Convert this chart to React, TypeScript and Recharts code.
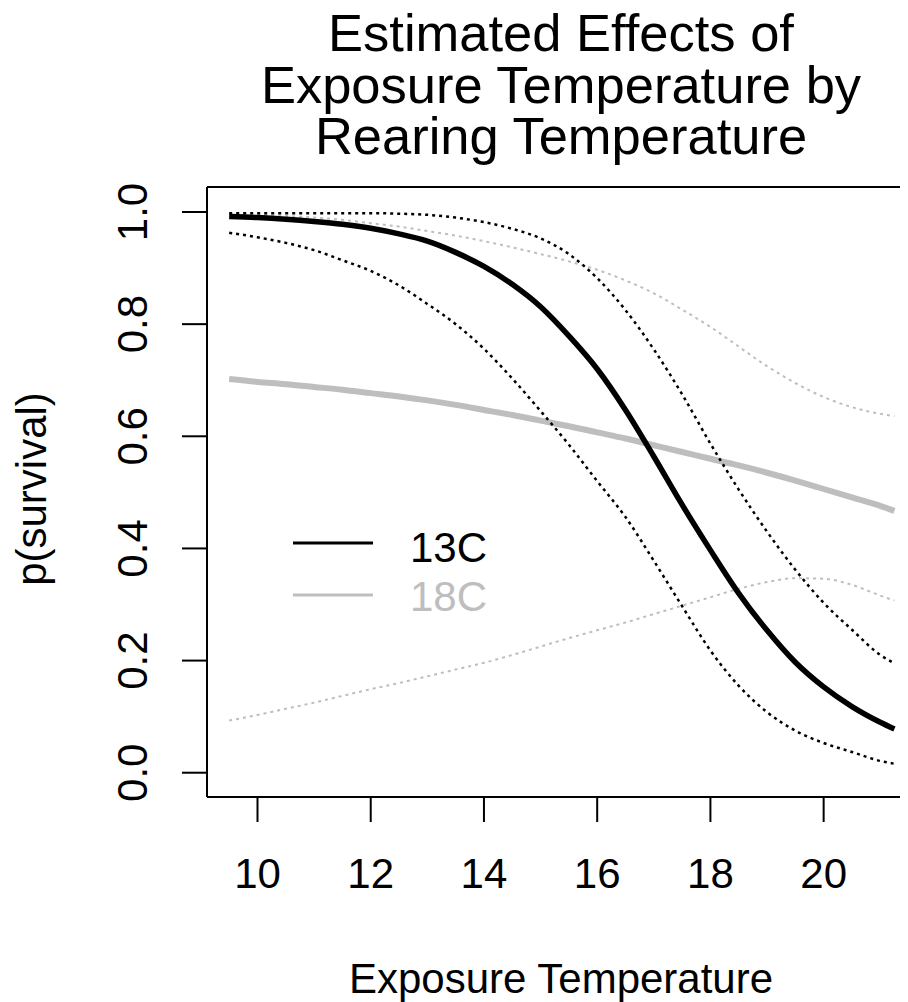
import React from "react";
import { LineChart, Line, XAxis, YAxis, ReferenceLine } from "recharts";

// Exposure temperature grid
const exposureTemp = [9.5, 10, 10.5, 11, 11.5, 12, 12.5, 13, 13.5, 14, 14.5, 15, 15.5, 16, 16.5, 17, 17.5, 18, 18.5, 19, 19.5, 20, 20.5, 21, 21.25];

// Rearing 13C: fit and confidence bounds
const fit13 = [0.992, 0.99, 0.987, 0.983, 0.978, 0.971, 0.961, 0.948, 0.928, 0.903, 0.871, 0.831, 0.779, 0.72, 0.647, 0.564, 0.478, 0.397, 0.32, 0.254, 0.197, 0.153, 0.118, 0.09, 0.078];
const lower13 = [0.963, 0.955, 0.945, 0.932, 0.914, 0.895, 0.869, 0.836, 0.8, 0.756, 0.703, 0.645, 0.585, 0.52, 0.456, 0.378, 0.297, 0.218, 0.155, 0.108, 0.075, 0.053, 0.037, 0.021, 0.016];
const upper13 = [0.998, 0.998, 0.998, 0.998, 0.998, 0.998, 0.997, 0.995, 0.99, 0.982, 0.97, 0.953, 0.925, 0.882, 0.825, 0.755, 0.675, 0.587, 0.505, 0.43, 0.362, 0.303, 0.255, 0.21, 0.195];

// Rearing 18C: fit and confidence bounds
const fit18 = [0.702, 0.697, 0.693, 0.688, 0.683, 0.677, 0.671, 0.664, 0.656, 0.647, 0.638, 0.628, 0.618, 0.607, 0.596, 0.584, 0.572, 0.56, 0.548, 0.535, 0.521, 0.506, 0.491, 0.476, 0.467];
const lower18 = [0.093, 0.103, 0.114, 0.125, 0.137, 0.149, 0.16, 0.172, 0.184, 0.196, 0.21, 0.225, 0.24, 0.254, 0.268, 0.283, 0.298, 0.313, 0.328, 0.34, 0.347, 0.346, 0.335, 0.316, 0.307];
const upper18 = [0.996, 0.995, 0.993, 0.99, 0.986, 0.98, 0.974, 0.966, 0.958, 0.948, 0.937, 0.925, 0.912, 0.897, 0.878, 0.855, 0.826, 0.795, 0.76, 0.725, 0.695, 0.67, 0.652, 0.64, 0.636];

const xTicks = [10, 12, 14, 16, 18, 20];
const yTicks = [0, 0.2, 0.4, 0.6, 0.8, 1.0];
const X_DOMAIN: [number, number] = [9.108, 21.49];
const Y_DOMAIN: [number, number] = [-0.0433, 1.0446];

const titleLines = ["Estimated Effects of", "Exposure Temperature by", "Rearing Temperature"];
const xLabel = "Exposure Temperature";
const yLabel = "p(survival)";
const legendItems = [
  { name: "13C", color: "#000000" },
  { name: "18C", color: "#BEBEBE" },
];

const data = exposureTemp.map((x, i) => ({
  x,
  fit13: fit13[i],
  lower13: lower13[i],
  upper13: upper13[i],
  fit18: fit18[i],
  lower18: lower18[i],
  upper18: upper18[i],
}));

const FONT = "'Liberation Sans', Arial, sans-serif";
const GRAY = "#BEBEBE";

const XTick = (props: any) => {
  const { x, y, payload } = props;
  return (
    <text x={x} y={y + 66} textAnchor="middle" fontFamily={FONT} fontSize={42} fill="#000">
      {payload.value}
    </text>
  );
};

const YTick = (props: any) => {
  const { x, y, payload } = props;
  const bx = x - 35;
  return (
    <text
      x={bx}
      y={y}
      textAnchor="middle"
      fontFamily={FONT}
      fontSize={42}
      fill="#000"
      transform={`rotate(-90, ${bx}, ${y})`}
    >
      {Number(payload.value).toFixed(1)}
    </text>
  );
};

export default function App() {
  return (
    <div style={{ position: "relative", width: 900, height: 994, background: "#fff" }}>
      <LineChart
        width={900}
        height={994}
        data={data}
        margin={{ top: 179, right: 0, bottom: 0, left: 0 }}
      >
        <XAxis
          dataKey="x"
          type="number"
          domain={X_DOMAIN}
          allowDataOverflow
          ticks={xTicks}
          tickSize={25}
          tickMargin={0}
          tick={<XTick />}
          axisLine={{ stroke: "#000", strokeWidth: 2 }}
          tickLine={{ stroke: "#000", strokeWidth: 2 }}
          height={205}
        />
        <YAxis
          type="number"
          domain={Y_DOMAIN}
          allowDataOverflow
          ticks={yTicks}
          tickSize={25}
          tickMargin={0}
          tick={<YTick />}
          axisLine={{ stroke: "#000", strokeWidth: 2 }}
          tickLine={{ stroke: "#000", strokeWidth: 2 }}
          width={199}
        />
        <ReferenceLine y={Y_DOMAIN[1]} stroke="#000" strokeWidth={2} ifOverflow="visible" />
        <Line dataKey="upper18" type="monotone" stroke={GRAY} strokeWidth={2} strokeDasharray="3 4" dot={false} isAnimationActive={false} />
        <Line dataKey="lower18" type="monotone" stroke={GRAY} strokeWidth={2} strokeDasharray="3 4" dot={false} isAnimationActive={false} />
        <Line dataKey="fit18" type="monotone" stroke={GRAY} strokeWidth={6} dot={false} isAnimationActive={false} />
        <Line dataKey="upper13" type="monotone" stroke="#000" strokeWidth={2.5} strokeDasharray="3 4" dot={false} isAnimationActive={false} />
        <Line dataKey="lower13" type="monotone" stroke="#000" strokeWidth={2.5} strokeDasharray="3 4" dot={false} isAnimationActive={false} />
        <Line dataKey="fit13" type="monotone" stroke="#000" strokeWidth={5.5} dot={false} isAnimationActive={false} />
      </LineChart>
      <svg
        width={900}
        height={994}
        style={{ position: "absolute", left: 0, top: 0, pointerEvents: "none" }}
      >
        {titleLines.map((t, i) => (
          <text key={t} x={553} y={43 + i * 51.5} textAnchor="middle" fontFamily={FONT} fontSize={52.5} fill="#000">
            {t}
          </text>
        ))}
        <text x={553} y={985} textAnchor="middle" fontFamily={FONT} fontSize={42} fill="#000">
          {xLabel}
        </text>
        <text
          x={38}
          y={481}
          textAnchor="middle"
          fontFamily={FONT}
          fontSize={42}
          fill="#000"
          transform="rotate(-90, 38, 481)"
        >
          {yLabel}
        </text>
        {legendItems.map((it, i) => (
          <g key={it.name}>
            <line x1={285} x2={365} y1={535 + i * 52} y2={535 + i * 52} stroke={it.color} strokeWidth={3} />
            <text x={402} y={554 + i * 49} fontFamily={FONT} fontSize={42} fill={it.color}>
              {it.name}
            </text>
          </g>
        ))}
      </svg>
    </div>
  );
}
